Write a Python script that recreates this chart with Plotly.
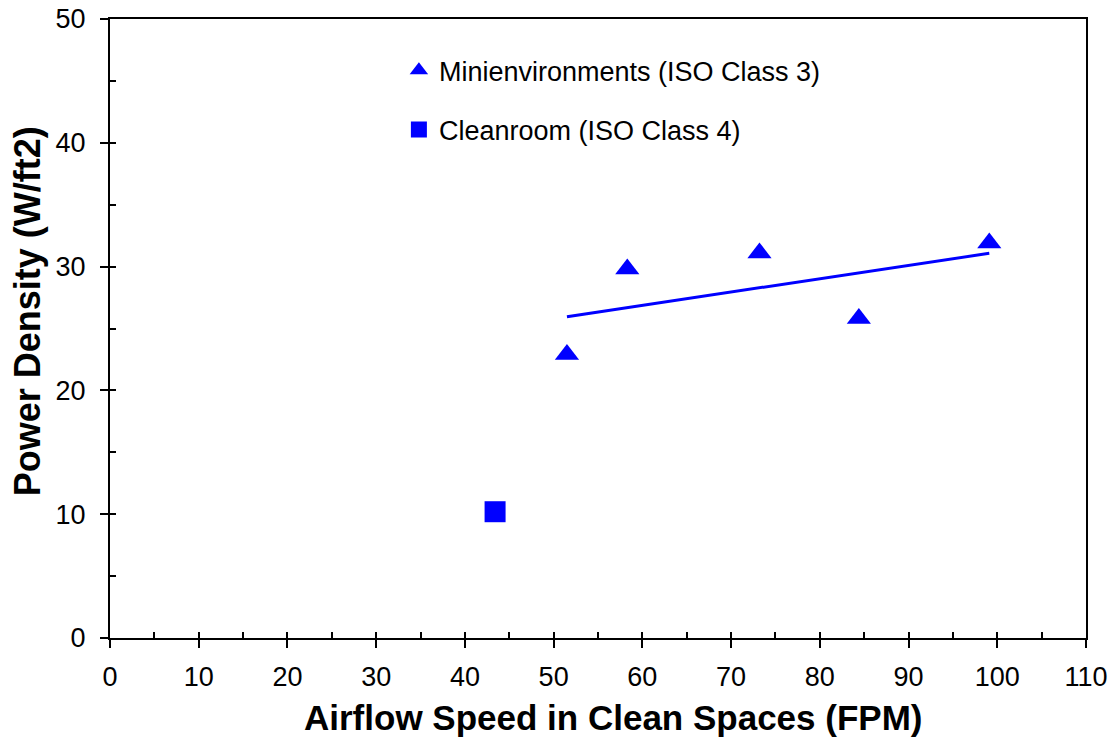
import numpy as np
import plotly.graph_objects as go

# Data
mini_x = [51.5, 58.3, 73.2, 84.4, 99.1]
mini_y = [22.9, 29.8, 31.1, 25.8, 31.9]
clean_x = [43.4]
clean_y = [10.2]

mini_name = "Minienvironments (ISO Class 3)"
clean_name = "Cleanroom (ISO Class 4)"
x_title = "Airflow Speed in Clean Spaces (FPM)"
y_title = "Power Density (W/ft2)"

# Linear trend line of the minienvironment series
slope, intercept = np.polyfit(mini_x, mini_y, 1)
trend_x = [min(mini_x), max(mini_x)]
trend_y = [slope * v + intercept for v in trend_x]

BLUE = "#0000FF"
FONT = "Liberation Sans, Arial, sans-serif"

fig = go.Figure()
fig.add_trace(go.Scatter(x=trend_x, y=trend_y, mode="lines",
                         line=dict(color=BLUE, width=3), showlegend=False,
                         hoverinfo="skip"))
fig.add_trace(go.Scatter(x=mini_x, y=mini_y, mode="markers", name=mini_name,
                         legendgroup="a",
                         marker=dict(symbol="triangle-up", size=21, color=BLUE)))
fig.add_trace(go.Scatter(x=clean_x, y=clean_y, mode="markers", name=clean_name,
                         legendgroup="b",
                         marker=dict(symbol="square", size=21, color=BLUE)))
# empty trace to host the overlay (inside-tick) axes
fig.add_trace(go.Scatter(x=[], y=[], xaxis="x2", yaxis="y2", showlegend=False,
                         hoverinfo="skip"))

common_major = dict(showgrid=False, zeroline=False, showline=True,
                    linecolor="black", linewidth=2, mirror=True,
                    ticks="outside", ticklen=8, tickwidth=1.5,
                    tickcolor="black", automargin=False,
                    ticklabeloverflow="allow",
                    tickfont=dict(family=FONT, size=27, color="black"))

fig.update_layout(
    width=1117, height=740,
    paper_bgcolor="white", plot_bgcolor="white",
    margin=dict(l=102, r=39, t=11, b=110),
    font=dict(family=FONT, color="black"),
    xaxis=dict(range=[0, 110], dtick=10, tick0=0,
               ticklabelstandoff=6, **common_major),
    yaxis=dict(range=[0, 50], dtick=10, tick0=0,
               ticklabelstandoff=9, **common_major),
    xaxis2=dict(range=[0, 110], overlaying="x", anchor="y2", side="bottom",
                dtick=5, tick0=0, ticks="inside", ticklen=6, tickwidth=1.5,
                tickcolor="black", showticklabels=False, showgrid=False,
                zeroline=False, showline=False, automargin=False),
    yaxis2=dict(range=[0, 50], overlaying="y", anchor="x2", side="left",
                dtick=5, tick0=0, ticks="inside", ticklen=6, tickwidth=1.5,
                tickcolor="black", showticklabels=False, showgrid=False,
                zeroline=False, showline=False, automargin=False),
    legend=dict(x=0.296, y=0.956, xanchor="left", yanchor="top",
                bgcolor="rgba(0,0,0,0)", borderwidth=0,
                traceorder="grouped", tracegroupgap=21,
                itemwidth=30,
                font=dict(family=FONT, size=27, color="black")),
    showlegend=True,
    annotations=[
        dict(text=x_title, xref="paper", yref="paper", x=0.5154, y=-0.129,
             xanchor="center", yanchor="middle", showarrow=False,
             font=dict(family=FONT, size=35, color="black", weight="bold")),
        dict(text=y_title, xref="paper", yref="paper", x=-0.085, y=0.528,
             xanchor="center", yanchor="middle", showarrow=False,
             textangle=-90,
             font=dict(family=FONT, size=36, color="black", weight="bold")),
    ],
)

fig.write_html("out.html")
